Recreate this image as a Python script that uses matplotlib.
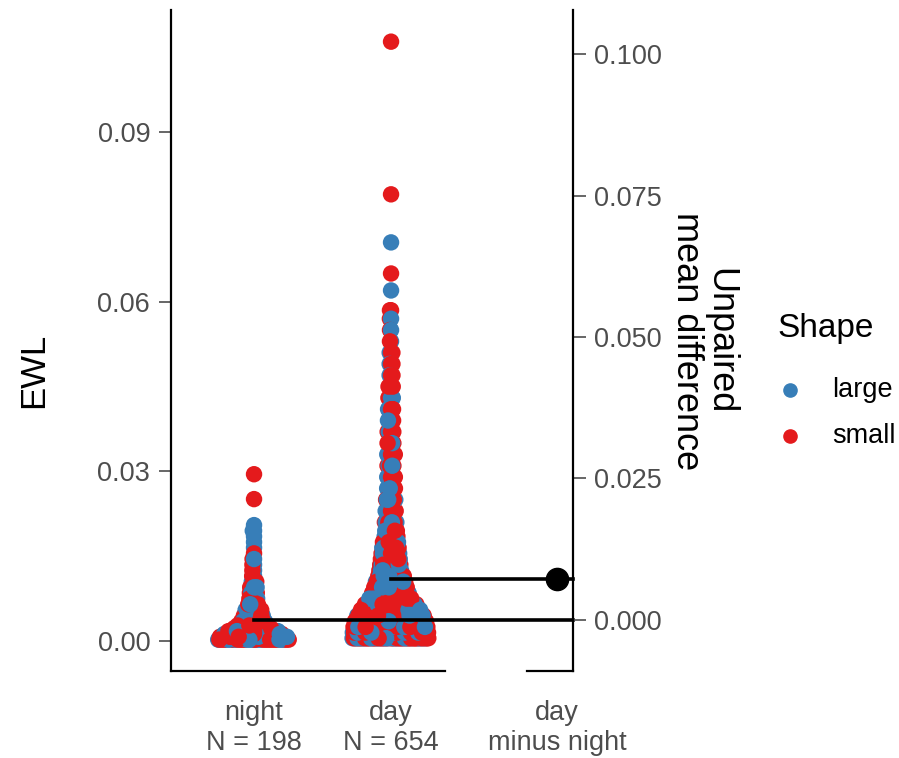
import numpy as np
import matplotlib
matplotlib.use('Agg')
import matplotlib.pyplot as plt
from matplotlib.lines import Line2D

plt.rcParams['font.family'] = ['Liberation Sans', 'DejaVu Sans']

night_levels = [0.00025, 0.00075, 0.00125, 0.00175, 0.00225, 0.00275, 0.0035, 0.0045, 0.0055,
                0.0065, 0.0075, 0.0085, 0.0095, 0.0105, 0.0115, 0.0125, 0.0135, 0.0145, 0.0155,
                0.0165, 0.0175, 0.0185, 0.0195, 0.0205, 0.0251, 0.0295]
night_large = [13, 13, 10, 7, 5, 3, 5, 4, 4, 2, 2, 1, 2, 1, 1, 1, 1, 1, 0, 1, 1, 1, 2, 1, 0, 0]
night_small = [20, 19, 14, 11, 7, 5, 8, 7, 5, 4, 2, 3, 2, 2, 1, 1, 1, 1, 1, 0, 0, 0, 0, 0, 1, 1]

day_levels = [0.0005, 0.0015, 0.0025, 0.0035, 0.0045, 0.0055, 0.0065, 0.0075, 0.0085, 0.0095,
              0.0105, 0.0115, 0.0125, 0.0135, 0.0145, 0.0155, 0.0165, 0.0175, 0.0185, 0.0195,
              0.021, 0.023, 0.025, 0.027, 0.029, 0.031, 0.033, 0.035, 0.037, 0.039,
              0.041, 0.043, 0.045, 0.047, 0.049, 0.051, 0.053, 0.055, 0.057,
              0.0585, 0.062, 0.065, 0.0705, 0.079, 0.106]
day_large = [24, 24, 23, 22, 21, 17, 14, 11, 9, 8, 7, 6, 5, 5, 4, 4, 4, 3, 3, 3,
             4, 4, 3, 3, 3, 2, 3, 2, 2, 2, 2, 2, 1, 1, 1, 1, 1, 1, 1,
             0, 1, 0, 1, 0, 0]
day_small = [37, 37, 36, 35, 32, 25, 22, 16, 14, 12, 10, 9, 8, 7, 7, 6, 5, 5, 4, 4,
             6, 5, 5, 4, 4, 4, 4, 4, 4, 3, 3, 2, 3, 2, 2, 2, 1, 1, 1,
             2, 0, 1, 0, 1, 1]

colors = {'large': '#377EB8', 'small': '#E41A1C'}
grey = '#4D4D4D'


def vdc(k):
    # van der Corput sequence, base 2
    v, d = 0.0, 1.0
    while k:
        d *= 2
        v += (k % 2) / d
        k //= 2
    return v


def swarm(levels, nl, ns, center, maxw, bw=0.001, p=0.72):
    lev = np.array(levels)
    cnt = np.array(nl) + np.array(ns)
    # kernel density at each level, reflected at zero
    diff = lev[:, None] - lev[None, :]
    refl = lev[:, None] + lev[None, :]
    dens = (cnt[None, :] * (np.exp(-0.5 * (diff / bw) ** 2) + np.exp(-0.5 * (refl / bw) ** 2))).sum(1)
    w = maxw * (dens / dens.max()) ** p
    xs, ys, cs = [], [], []
    for y, a, b, wi in zip(lev, nl, ns, w):
        labs = [((j + 0.5) / a, 'large') for j in range(a)] + [((j + 0.5) / b, 'small') for j in range(b)]
        labs.sort()
        for k, (_, lab) in enumerate(labs):
            off = (2 * vdc(k + 1) - 1) * wi if len(labs) > 1 else 0.0
            xs.append(center + off)
            ys.append(y)
            cs.append(colors[lab])
    return np.array(xs), np.array(ys), cs


fig = plt.figure(figsize=(8.99, 7.58), dpi=100)
ax = fig.add_axes([171 / 899, 87 / 758, 402 / 899, 661 / 758])

xn, yn, cn = swarm(night_levels, night_large, night_small, 0, 0.27)
xd, yd, cd = swarm(day_levels, day_large, day_small, 1, 0.29)

for xs, ys, cs in [(xn, yn, cn), (xd, yd, cd)]:
    n = len(xs)
    order = [(i * 37) % n for i in range(n)] if n % 37 else list(range(n))
    ax.scatter(xs[order], ys[order], c=[cs[i] for i in order], s=140, linewidths=0, zorder=2)

mean_n = np.mean(yn)
mean_d = np.mean(yd)
x_eff = 2.21
x_lo, x_hi = -0.606, 2.328

ax.plot([0, x_hi], [mean_n, mean_n], color='black', lw=2.6, zorder=3, clip_on=False)
ax.plot([1, x_hi], [mean_d, mean_d], color='black', lw=2.6, zorder=3, clip_on=False)
ax.plot([x_eff], [mean_d], 'o', color='black', ms=16, zorder=4)

ylo, yhi = -0.0053, 0.1116
ax.set_xlim(x_lo, x_hi)
ax.set_ylim(ylo, yhi)
ax.set_yticks([0, 0.03, 0.06, 0.09])
ax.set_yticklabels(['0.00', '0.03', '0.06', '0.09'])
ax.set_xticks([0, 1, x_eff])
ax.set_xticklabels(['night\nN = 198', 'day\nN = 654', 'day\nminus night'])
ax.tick_params(axis='x', length=0, pad=21, labelsize=19.5, labelcolor=grey)
ax.tick_params(axis='y', length=9, width=1.2, color=grey, pad=6, labelsize=19.5, labelcolor=grey)
for s in ['top', 'right']:
    ax.spines[s].set_visible(False)
for s in ['left', 'bottom']:
    ax.spines[s].set_linewidth(1.6)
ax.spines['bottom'].set_bounds(x_lo, 1.394)
ax.plot([1.99, x_hi], [0, 0], color='black', lw=1.6, transform=ax.get_xaxis_transform(),
        clip_on=False, solid_capstyle='projecting')

ax2 = ax.twinx()
ax2.set_ylim(ylo - mean_n, yhi - mean_n)
ax2.set_yticks([0, 0.025, 0.05, 0.075, 0.1])
ax2.set_yticklabels(['0.000', '0.025', '0.050', '0.075', '0.100'])
ax2.tick_params(axis='y', length=9, width=1.2, color=grey, pad=6, labelsize=19.5, labelcolor=grey)
for s in ['top', 'left', 'bottom']:
    ax2.spines[s].set_visible(False)
ax2.spines['right'].set_linewidth(1.6)

fig.text(34 / 899, 1 - 370 / 758, 'EWL', rotation=90, ha='center', va='center', fontsize=25)
fig.text(703 / 899, 1 - 341 / 758, 'Unpaired\nmean difference', rotation=270, ha='center',
         va='center', multialignment='center', fontsize=26, linespacing=0.95)

# legend
fig.text(777 / 899, 1 - 328 / 758, 'Shape', ha='left', va='center', fontsize=24)
for lab, yy in [('large', 390), ('small', 436)]:
    fig.add_artist(Line2D([790 / 899], [1 - yy / 758], marker='o', ls='', color=colors[lab],
                          ms=9.5, transform=fig.transFigure))
    fig.text(832 / 899, 1 - yy / 758, lab, ha='left', va='center', fontsize=19.5)

fig.savefig('out.png', dpi=100)
